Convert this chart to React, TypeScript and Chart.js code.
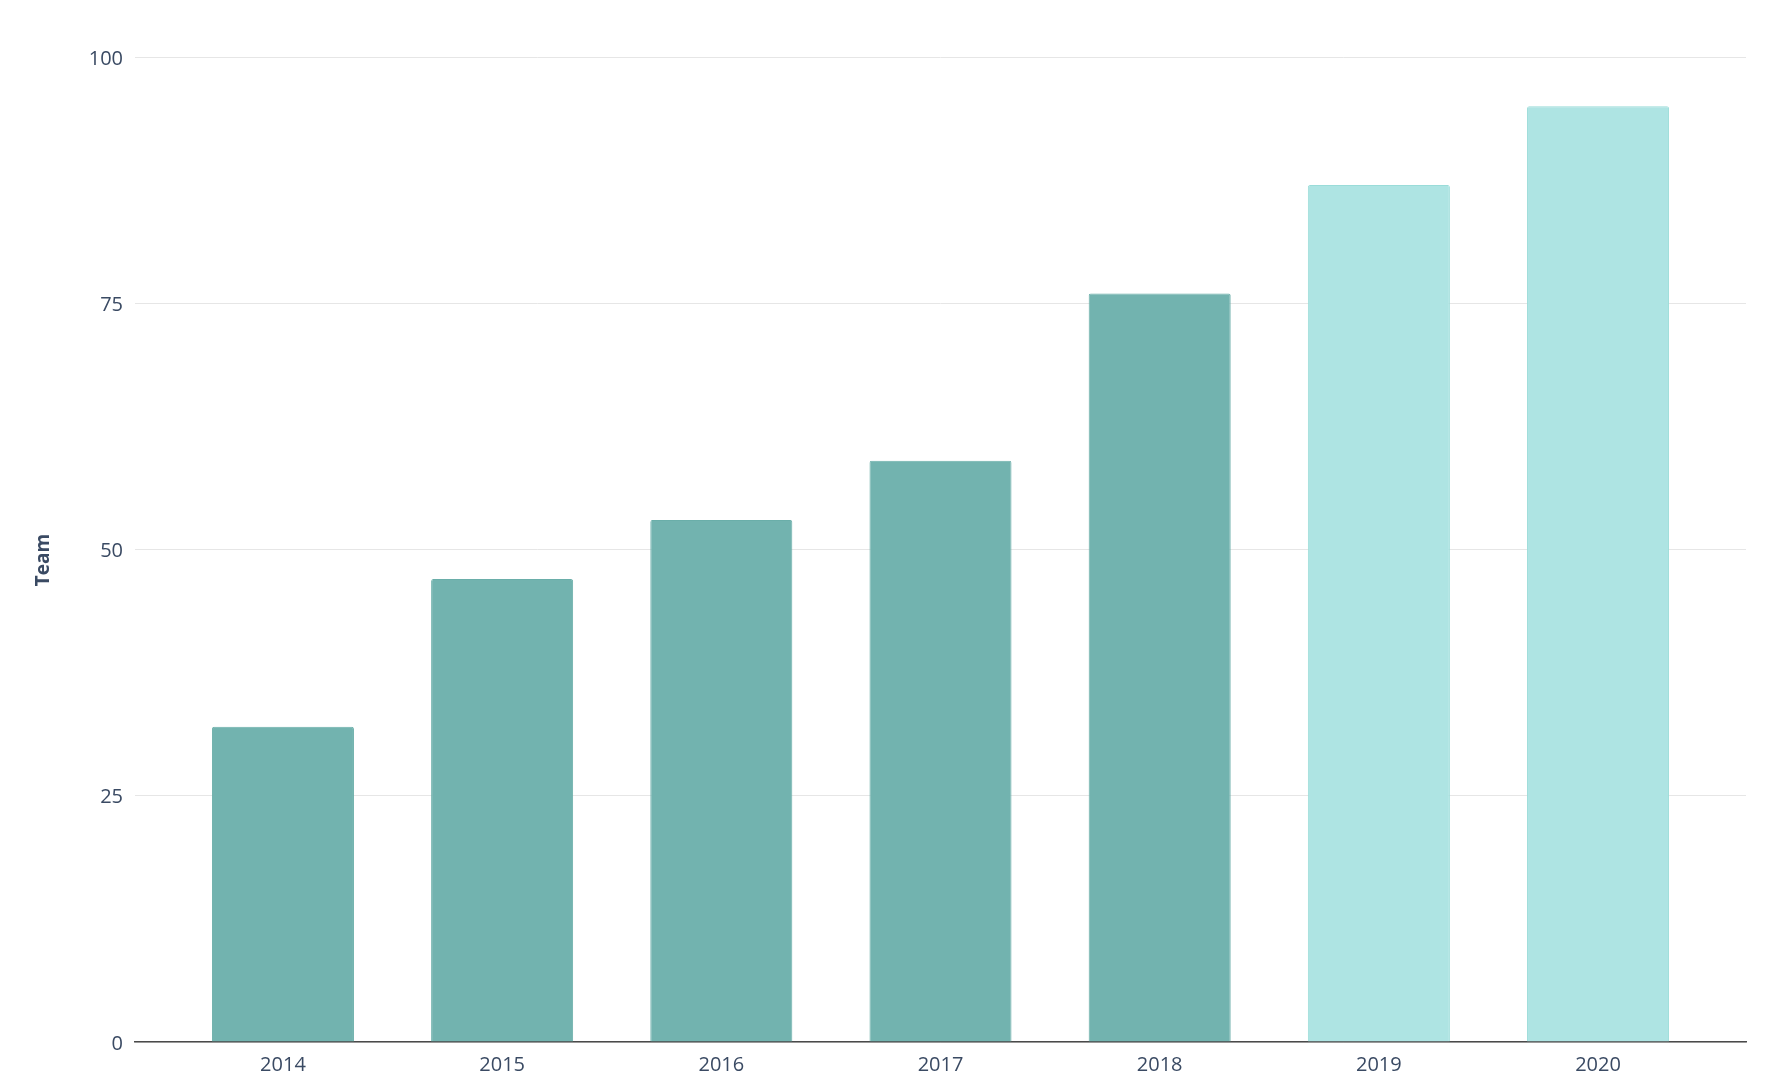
import React, { useEffect, useRef } from "react";
import { Chart, registerables } from "chart.js";

Chart.register(...registerables);

const years = [2014, 2015, 2016, 2017, 2018, 2019, 2020];
const teamSize = [32, 47, 53, 59, 76, 87, 95];
const projectedFrom = 2019;
const yTicks = [0, 25, 50, 75, 100];
const yAxisTitle = "Team";

const TEXT = "#3a4a63";
const FONT = "'Open Sans', 'Noto Sans', sans-serif";

export default function App() {
  const ref = useRef<HTMLCanvasElement | null>(null);

  useEffect(() => {
    if (!ref.current) return;
    const isProj = years.map((y) => y >= projectedFrom);
    const titlePlugin = {
      id: "yTitle",
      afterDraw(chart: any) {
        const ctx = chart.ctx;
        ctx.save();
        ctx.translate(44, 560);
        ctx.rotate(-Math.PI / 2);
        ctx.font = `bold 19px ${FONT}`;
        ctx.fillStyle = TEXT;
        ctx.textAlign = "center";
        ctx.textBaseline = "middle";
        ctx.fillText(yAxisTitle, 0, 0);
        ctx.restore();
      },
    };
    const chart = new Chart(ref.current, {
      type: "bar",
      data: {
        datasets: [
          {
            label: yAxisTitle,
            data: years.map((y, i) => ({ x: y, y: teamSize[i] })),
            backgroundColor: isProj.map((p) => (p ? "#aee4e3" : "#72b3af")),
            borderColor: isProj.map((p) => (p ? "#9adcd9" : "#6aaea9")),
            borderWidth: 1,
            borderRadius: 2,
            borderSkipped: "start",
            barPercentage: 0.648,
            categoryPercentage: 1,
          },
        ],
      },
      options: {
        responsive: false,
        animation: false,
        layout: { padding: { top: 57, right: 26, left: 0, bottom: 0 } },
        plugins: {
          legend: { display: false },
          tooltip: { enabled: false },
        },
        scales: {
          x: {
            type: "linear",
            offset: false,
            min: years[0] - 0.675,
            max: years[years.length - 1] + 0.675,
            afterBuildTicks(scale: any) {
              scale.ticks = years.map((v) => ({ value: v }));
            },
            grid: { display: false, drawTicks: false },
            border: { display: true, color: "#4a4a4a", width: 1.5 },
            ticks: {
              color: TEXT,
              font: { family: FONT, size: 20 },
              padding: 11,
              callback: (v: any) => String(v),
            },
            afterFit(scale: any) {
              scale.height = 42;
            },
          },
          y: {
            min: 0,
            max: 100,
            afterBuildTicks(scale: any) {
              scale.ticks = yTicks.map((v) => ({ value: v }));
            },
            grid: { color: "#e6e6e6", lineWidth: 1, drawTicks: false },
            border: { display: false },
            ticks: {
              color: TEXT,
              font: { family: FONT, size: 20 },
              padding: 12,
              labelOffset: 2,
            },
            afterFit(scale: any) {
              scale.width = 135;
            },
          },
        },
      },
      plugins: [titlePlugin],
    });
    return () => chart.destroy();
  }, []);

  return (
    <canvas
      ref={ref}
      width={1772}
      height={1084}
      style={{ position: "absolute", left: 0, top: 0, display: "block" }}
    />
  );
}
